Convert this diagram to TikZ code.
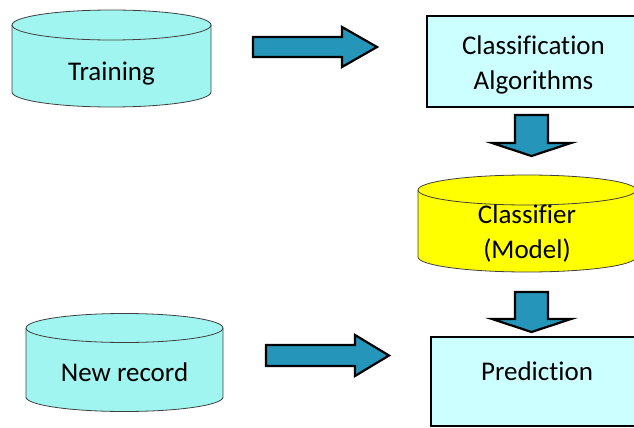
\documentclass[tikz,border=0pt]{standalone}
\usepackage{fontspec}
\setmainfont[Ligatures={NoCommon}]{Carlito}
\definecolor{drumcyan}{HTML}{A0F5F0}
\definecolor{boxcyan}{HTML}{CCFFFF}
\definecolor{drumyellow}{HTML}{FFFF00}
\definecolor{arrowblue}{HTML}{2596BA}
\definecolor{drumedge}{HTML}{404040}

% drum: centre x, top-ellipse y, bottom-ellipse y, x radius, y radius, fill
\newcommand\drum[6]{%
  \fill[#6] (#1-#4,#2) -- (#1-#4,#3)
    arc[start angle=180, end angle=0, x radius=#4, y radius=#5]
    -- (#1+#4,#2) -- cycle;
  \draw[drumline] (#1-#4,#2) -- (#1-#4,#3)
    arc[start angle=180, end angle=0, x radius=#4, y radius=#5]
    -- (#1+#4,#2);
  \draw[drumline, fill=#6] (#1,#2) ellipse[x radius=#4, y radius=#5];
}
% block arrow pointing right: x start, head base x, tip x, centre y, body half, head half
\newcommand\rightblock[6]{%
  \draw[blockarrow] (#1,#4-#5) -- (#2,#4-#5) -- (#2,#4-#6) -- (#3,#4)
    -- (#2,#4+#6) -- (#2,#4+#5) -- (#1,#4+#5) -- cycle;
}
% block arrow pointing down: centre x, y start, head base y, tip y, body half, head half
\newcommand\downblock[6]{%
  \draw[blockarrow] (#1-#5,#2) -- (#1-#5,#3) -- (#1-#6,#3) -- (#1,#4)
    -- (#1+#6,#3) -- (#1+#5,#3) -- (#1+#5,#2) -- cycle;
}

\begin{document}
\begin{tikzpicture}[x=1pt,y=-1pt,
  lbl/.style={font=\fontsize{27}{35}\selectfont, align=center, anchor=base, inner sep=0pt},
  boxstyle/.style={draw=black, line width=2pt, fill=boxcyan},
  drumline/.style={draw=drumedge, line width=0.8pt},
  blockarrow/.style={draw=black, line width=2.2pt, fill=arrowblue, line join=miter}]
\useasboundingbox (0,0) rectangle (634,428);

% data stores
\drum{111.5}{25}{92}{99.5}{15}{drumcyan}
\drum{124.5}{328}{397}{98.5}{14.5}{drumcyan}
\drum{527}{190}{257}{109}{15}{drumyellow}

% process boxes
\draw[boxstyle] (427,16) rectangle (640,107);
\draw[boxstyle] (430.5,337) rectangle (643,426);

% labels (two-line labels are placed by their last baseline)
\node[lbl] (train) at (111.5,80) {Training};
\node[lbl] (newrec) at (124.5,381) {New record};
\node[lbl] (algo) at (533.5,89) {Classification\\Algorithms};
\node[lbl] (model) at (527,258) {Classifier\\(Model)};
\node[lbl] (pred) at (537,380) {Prediction};

% flow arrows
\rightblock{253}{342}{377}{47}{10}{20}
\rightblock{266}{355}{389}{355.5}{10.5}{20.5}
\downblock{531.5}{115}{143}{156}{16.5}{39.5}
\downblock{531.5}{292}{319}{332}{16.5}{39.5}
\end{tikzpicture}
\end{document}
